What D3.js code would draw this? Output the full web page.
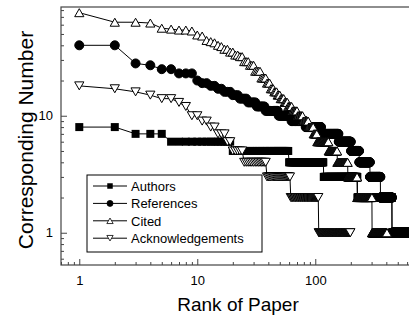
<!DOCTYPE html>
<html>
<head>
<meta charset="utf-8">
<script src="https://cdn.jsdelivr.net/npm/d3@7"></script>
<style>
  body { margin: 0; background: #fff; }
  svg { display: block; font-family: "Liberation Sans", Arial, sans-serif; }
</style>
</head>
<body>
<svg id="chart"></svg>
<script>
// rank-ordered counts, stored as runs: value held up to (and including) lastRank
const paperCount = 620;

const authorValues   = [8, 7, 6, 5, 4, 3, 2, 1];
const authorLastRank = [2, 5, 19, 59, 117, 227, 446, paperCount];

const referenceValues   = [40, 28, 27, 25, 23, 20, 19, 18, 17, 16, 15, 14, 13, 12, 11, 10, 9, 8, 7, 6, 5, 4, 3, 2, 1];
const referenceLastRank = [2, 3, 4, 6, 9, 10, 12, 14, 16, 19, 22, 26, 31, 37, 48, 62, 82, 112, 157, 200, 235, 290, 356, 446, paperCount];

const citedValues   = [76, 63, 62, 56, 55, 54, 53, 49, 48, 44, 43, 42, 40, 39, 37, 35, 33, 32, 29, 27, 24, 21, 19, 17, 16, 15, 14, 13, 12, 11, 10, 9, 8, 7, 6, 5, 4, 3, 2, 1];
const citedLastRank = [1, 3, 4, 5, 6, 8, 9, 10, 11, 12, 13, 14, 15, 16, 18, 20, 22, 24, 27, 30, 34, 38, 41, 44, 47, 50, 54, 58, 63, 70, 78, 87, 96, 103, 129, 153, 188, 226, 302, 405];

const ackValues   = [18, 17, 16, 15, 14, 13, 12, 10, 9, 8, 7, 6, 5, 4, 3, 2, 1];
const ackLastRank = [1, 2, 3, 4, 6, 7, 8, 10, 12, 14, 17, 19, 24, 38, 61, 106, 198];

const seriesNames = ["Authors", "References", "Cited", "Acknowledgements"];
const seriesSymbols = ["square", "circle", "up", "down"];

const xMajor = [1, 10, 100];
const xMinor = [0.7, 0.8, 0.9, 2, 3, 4, 5, 6, 7, 8, 9, 20, 30, 40, 50, 60, 70, 80, 90, 200, 300, 400, 500, 600, 700];
const yMajor = [1, 10];
const yMinor = [0.6, 0.7, 0.8, 0.9, 2, 3, 4, 5, 6, 7, 8, 9, 20, 30, 40, 50, 60, 70, 80];

function expandRuns(values, lastRanks) {
    const pts = [];
    let r = 1;
    values.forEach((v, i) => {
        for (; r <= lastRanks[i]; r++) pts.push({ rank: r, value: v });
    });
    return pts;
}

const seriesData = [
    expandRuns(authorValues, authorLastRank),
    expandRuns(referenceValues, referenceLastRank),
    expandRuns(citedValues, citedLastRank),
    expandRuns(ackValues, ackLastRank)
];

const width = 409, height = 316;
const svg = d3.select("#chart").attr("width", width).attr("height", height);

const plotLeft = 61, plotRight = 415, plotTop = 7, plotBottom = 265;

const x = d3.scaleLog().domain([0.7, 700]).range([plotLeft, plotRight]);
const y = d3.scaleLog().domain([0.53, 85]).range([plotBottom, plotTop]);

function symbolPath(kind, s) {
    if (kind === "square") return `M${-s / 2},${-s / 2}h${s}v${s}h${-s}Z`;
    if (kind === "circle") return d3.symbol(d3.symbolCircle, Math.PI * s * s / 4)();
    const w = s * 1.15, h = s;
    if (kind === "up") return `M${-w / 2},${h / 2}L${w / 2},${h / 2}L0,${-h / 2}Z`;
    return `M${-w / 2},${-h / 2}L${w / 2},${-h / 2}L0,${h / 2}Z`;
}

function symbolFill(kind) {
    return (kind === "square" || kind === "circle") ? "#000" : "#fff";
}

// axes (ticks point inward)
const axisColor = "#444";

const xAxisMinor = d3.axisBottom(x).tickValues(xMinor).tickSize(-3).tickSizeOuter(0).tickFormat("");
const xAxisMajor = d3.axisBottom(x).tickValues(xMajor).tickSize(-6).tickSizeOuter(0).tickPadding(11).tickFormat(d3.format("d"));
const yAxisMinor = d3.axisLeft(y).tickValues(yMinor).tickSize(-3).tickSizeOuter(0).tickFormat("");
const yAxisMajor = d3.axisLeft(y).tickValues(yMajor).tickSize(-6).tickSizeOuter(0).tickPadding(8).tickFormat(d3.format("d"));

[xAxisMinor, xAxisMajor].forEach(ax => {
    svg.append("g").attr("transform", `translate(0,${plotBottom})`).call(ax);
});
[yAxisMinor, yAxisMajor].forEach(ax => {
    svg.append("g").attr("transform", `translate(${plotLeft},0)`).call(ax);
});
svg.selectAll(".domain").remove();
svg.selectAll(".tick line").attr("stroke", axisColor);
svg.selectAll(".tick text").attr("font-size", 13).attr("fill", "#000")
    .attr("font-family", "'Liberation Sans', Arial, sans-serif");

// frame
svg.append("rect")
    .attr("x", plotLeft).attr("y", plotTop)
    .attr("width", plotRight - plotLeft).attr("height", plotBottom - plotTop)
    .attr("fill", "none").attr("stroke", axisColor).attr("stroke-width", 1.2);

// series
const line = d3.line().x(d => x(d.rank)).y(d => y(d.value));

seriesData.forEach((data, i) => {
    const kind = seriesSymbols[i];
    const g = svg.append("g");
    g.append("path")
        .datum(data)
        .attr("d", line)
        .attr("fill", "none")
        .attr("stroke", "#000")
        .attr("stroke-width", 1);
    g.selectAll("path.pt")
        .data(data)
        .join("path")
        .attr("class", "pt")
        .attr("transform", d => `translate(${x(d.rank)},${y(d.value)})`)
        .attr("d", symbolPath(kind, kind === "circle" ? 9 : 8))
        .attr("fill", symbolFill(kind))
        .attr("stroke", "#000")
        .attr("stroke-width", kind === "square" ? 0 : 1);
});

// legend
const legend = svg.append("g");
legend.append("rect")
    .attr("x", 87).attr("y", 175)
    .attr("width", 175).attr("height", 77)
    .attr("fill", "#fff").attr("stroke", "#000").attr("stroke-width", 1);

seriesNames.forEach((name, i) => {
    const cy = 186 + i * 17.4;
    const kind = seriesSymbols[i];
    legend.append("line")
        .attr("x1", 93).attr("x2", 127)
        .attr("y1", cy).attr("y2", cy)
        .attr("stroke", "#000").attr("stroke-width", 1);
    legend.append("path")
        .attr("transform", `translate(110,${cy})`)
        .attr("d", symbolPath(kind, kind === "circle" ? 6 : 5.5))
        .attr("fill", symbolFill(kind))
        .attr("stroke", "#000")
        .attr("stroke-width", kind === "square" ? 0 : 0.8);
    legend.append("text")
        .attr("x", 131).attr("y", cy + 4.7)
        .attr("font-size", 13)
        .text(name);
});

// axis titles
svg.append("text")
    .attr("x", (plotLeft + plotRight) / 2).attr("y", 311)
    .attr("text-anchor", "middle")
    .attr("font-size", 19)
    .text("Rank of Paper");

svg.append("text")
    .attr("transform", `translate(33,${(plotTop + plotBottom) / 2 + 4}) rotate(-90)`)
    .attr("text-anchor", "middle")
    .attr("font-size", 21)
    .text("Corresponding Number");
</script>
</body>
</html>
